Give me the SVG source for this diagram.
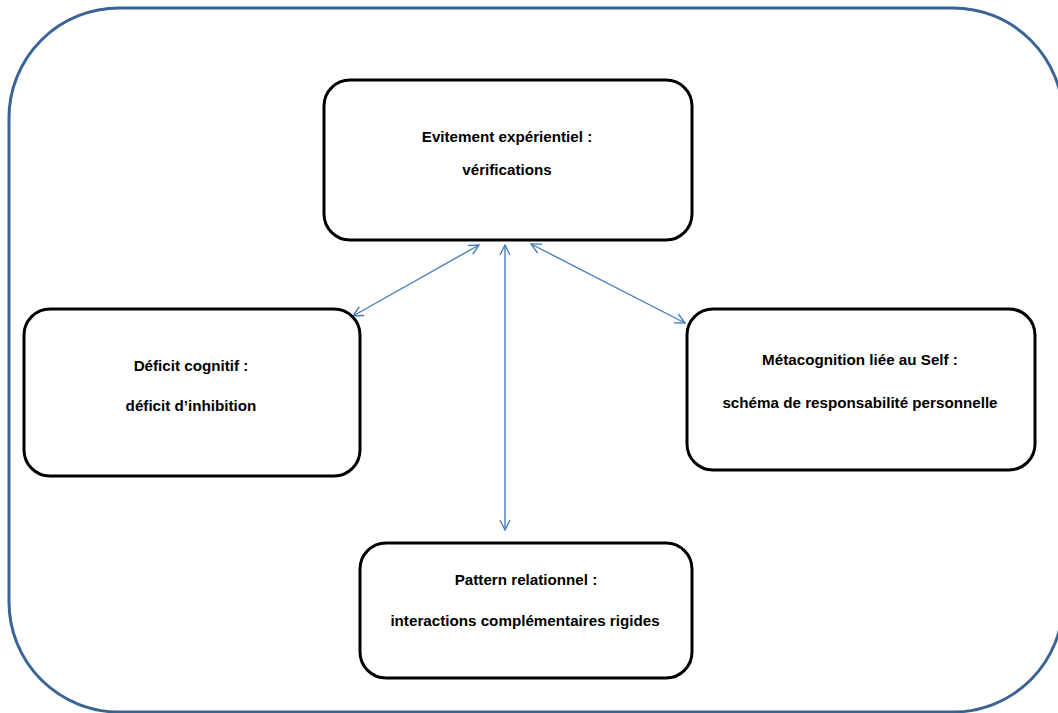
<svg xmlns="http://www.w3.org/2000/svg" width="1058" height="713" viewBox="0 0 1058 713">
<defs>
<marker id="ah" viewBox="0 0 12 12" refX="11" refY="6" markerWidth="12" markerHeight="12" markerUnits="userSpaceOnUse" orient="auto-start-reverse">
<path d="M1,1 L11,6 L1,11" fill="none" stroke="#4A7EBB" stroke-width="1.4"/>
</marker>
</defs>
<style>
.box{fill:#fff;stroke:#000;stroke-width:3}
.t{font-family:"Liberation Sans",Arial,sans-serif;font-weight:bold;font-size:15.2px;fill:#000;text-anchor:middle}
.c{fill:none;stroke:#4A7EBB;stroke-width:1.4;marker-start:url(#ah);marker-end:url(#ah)}
</style>
<rect x="9" y="8" width="1054" height="704" rx="110" ry="110" fill="#fff" stroke="#3A6496" stroke-width="3"/>
<g id="connectors">
<line class="c" x1="479" y1="245" x2="353" y2="316"/>
<line class="c" x1="505" y1="245" x2="505" y2="530"/>
<line class="c" x1="531" y1="244" x2="685" y2="323"/>
</g>
<g id="node-top">
<rect class="box" x="324" y="80" width="368" height="160" rx="26"/>
<text class="t" x="507" y="142">Evitement expérientiel :</text>
<text class="t" x="507" y="175">vérifications</text>
</g>
<g id="node-left">
<rect class="box" x="24" y="309" width="336" height="167" rx="26"/>
<text class="t" x="191" y="371">Déficit cognitif :</text>
<text class="t" x="191" y="411">déficit d’inhibition</text>
</g>
<g id="node-right">
<rect class="box" x="687" y="309" width="348" height="161" rx="26"/>
<text class="t" x="860" y="365">Métacognition liée au Self :</text>
<text class="t" x="860" y="408">schéma de responsabilité personnelle</text>
</g>
<g id="node-bottom">
<rect class="box" x="360" y="543" width="332" height="135" rx="26"/>
<text class="t" x="526" y="585">Pattern relationnel :</text>
<text class="t" x="525" y="626">interactions complémentaires rigides</text>
</g>
</svg>
